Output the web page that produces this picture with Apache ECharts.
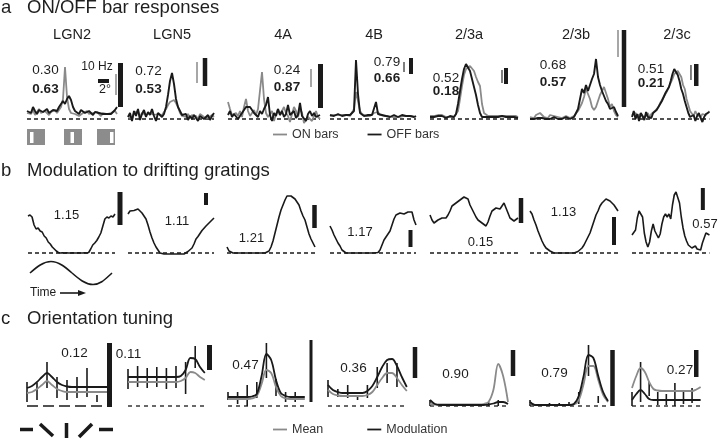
<!DOCTYPE html>
<html><head><meta charset="utf-8">
<script src="https://cdn.jsdelivr.net/npm/echarts@6/dist/echarts.min.js"></script>
<style>html,body{margin:0;padding:0;background:#fff}#c{width:720px;height:439px}</style>
</head><body><div id="c"></div>
<script>
// ================= DATA =================
// ---- a: ON/OFF bar responses (response above baseline) ----
const aColumns = ['LGN2','LGN5','4A','4B','2/3a','2/3b','2/3c'];
const aIndexTop = ['0.30','0.72','0.24','0.79','0.52','0.68','0.51'];
const aIndexBold = ['0.63','0.53','0.87','0.66','0.18','0.57','0.21'];
const on_LGN2 = [6,8,5,9,4,7,10,6,5,8,6,4,7,5,9,6,8,12,20,52,22,10,6,4,5,7,3,5,6,4,8,5,3,6,4,7,5,3,6,4,5,3,6,4,8,5];
const off_LGN2 = [8,10,6,12,8,5,9,11,7,9,10,6,8,9,7,8,12,14,18,15,20,23,19,12,8,6,5,9,7,6,5,8,6,4,7,5,6,4,5,7,5,3,5,7,9,12];
const on_LGN5 = [3,5,0,6,4,8,2,6,7,4,5,6,8,4,2,5,7,4,6,10,14,17,18,19,16,12,6,3,4,2,5,1,4,2,3,0,5,3,2,4,1,3,4,2];
const off_LGN5 = [2,6,-2,8,3,10,-1,5,9,2,7,4,10,3,-2,6,8,2,5,12,24,38,46,35,20,12,8,4,2,5,-1,3,0,4,1,-2,3,5,0,2,4,-1,3,6];
const on_4A = [17,10,4,2,6,3,8,2,12,20,8,3,5,9,4,10,8,47,20,6,2,4,8,-2,5,10,4,3,12,6,3,-3,5,12,8,2,10,6,-4,-6,2,4,-2,3,8,2,0];
const off_4A = [4,8,2,5,3,0,2,6,9,12,13,12,10,6,4,2,8,5,10,14,22,4,-2,6,3,10,4,8,2,5,14,4,2,8,1,4,16,3,2,-2,5,8,3,6,2,0,4];
const on_4B = [3,4,4,3,4,3,4,3,4,4,3,4,10,27,18,8,5,4,3,4,3,5,6,8,7,4,3,3,2,3,3,2,3,2,3,2,3,3,2,3,2,3,3,2];
const off_4B = [4,5,3,4,5,4,3,5,4,3,4,5,8,59,25,6,4,3,5,4,3,4,6,17,5,3,4,2,3,4,2,3,4,3,2,3,4,2,3,2,3,4,2,3];
const on_23a = [3,2,3,2,4,3,4,3,2,3,2,3,2,3,8,20,33,44,50,52,53,52,48,42,37,33,15,6,4,3,4,3,2,3,4,3,2,3,4,3,2,3,2,3,2];
const off_23a = [2,3,2,4,3,2,3,2,1,2,3,2,2,5,15,28,40,50,55,53,48,40,32,24,14,6,2,1,2,1,2,3,2,1,2,2,3,4,2,3,2,1,2,2,1];
const on_23b = [2,3,1,4,2,6,5,2,3,1,4,2,3,5,2,3,1,2,3,2,1,2,3,4,8,12,16,22,30,28,20,12,9,12,18,24,28,32,26,20,12,15,8,4,2];
const off_23b = [0,1,0,2,1,0,1,2,0,1,0,1,2,1,0,1,0,1,2,1,0,1,2,4,10,20,30,26,34,28,27,40,45,60,42,34,28,26,18,15,10,9,12,7,3];
const on_23c = [4,2,6,3,1,5,2,4,3,6,2,5,4,8,10,12,16,14,22,24,28,30,36,40,45,44,48,49,42,34,30,20,14,8,6,3,8,4,6,2,5,3,4,6,8];
const off_23c = [2,8,0,5,-2,6,3,-1,7,2,4,1,6,5,9,12,14,18,20,26,24,32,38,45,50,47,44,38,30,25,18,12,6,2,0,4,-2,3,6,1,-3,2,5,3,7];

// ---- b: modulation to drifting gratings ----
const bIndex = ['1.15','1.11','1.21','1.17','0.15','1.13','0.57'];
const grat_LGN2 = [37,38,36,28,24,25,22,21,17,15,11,9,6,4,2,0.5,0,0.3,0,0.2,0,0,0.3,0,0,0.2,0,0,0.3,0,0.5,4,8,10,12.5,16,20,27,34,36,35,37,36,39];
const grat_LGN5 = [39,42,43,42.5,44,44,42,40,38,34,28,21,15,10,6,3,0,-1,-1,-1,-1,-1,-1,-1,-1,-1,-1,-1,-1,-0.5,1.5,3,5,9,14,16.5,19.5,22.5,24.5,27,29,31,33,35];
const grat_4A = [6,2,0,0,0,0,0,0,0,0,0,0,0,0,0,0,0,0,0,0,0,2,6,12,20,28,36,43,48,53,57,59,57,56,54,52,48,42,37,33,26,19,14,10,6];
const grat_4B = [27,23,18,14,10,7,3,1,0,0,0,0,0,0,0,0,0,0,0,0,0,0,0,0,0.5,3,8,13,16,19,22,28,34,38,40,40,41,39,40,41,39,41,33,28];
const grat_23a = [38,33,30,31,33,34,35,33,35,38,42,47,49,50,52,53,55,56,58,54,48,44,40,36,33,32,30,28,27,31,37,42,44,45,43,44,46,50,52,40,35,33,32,33,35];
const grat_23b = [42,39,33,28,22,17,12,8,5,3,2,1,0,0,0,0,0,0,0,0,0,0,0,0,1.5,3,5,8,12,16,20,26,32,38,42,47,50,52,54,53,52,50,48,45,42];
const grat_23c = [18,16,23,35,42,44,36,20,11,6,11,22,29,22,22,15,19,29,36,39,36,39,34,48,58,61,61,50,36,25,17,12,8,6,5,6,7,4,2,3,10,15,20,19,18];

// ---- c: orientation tuning (fits at 0,0.5,...,8 orientation steps; error bars at 0..7) ----
const cIndex = ['0.12','0.11','0.47','0.36','0.90','0.79','0.27'];
const mean_LGN2 = [13,14,17,21,25,21,17,15,14,14,14,14,14,14,14,14,14];
const modt_LGN2 = [18,20,24,29,33,29,24,21,19.5,19,19,19,19,19,19,19,19];
const errLo_LGN2 = [4,6,18,8,6,8,9,4];
const errHi_LGN2 = [24,23,44,29,26,29,38,11];
const mean_LGN5 = [24,24,24,24,24,24,24,24,24,24,24,25,28,34,33,29,26];
const modt_LGN5 = [29,29,29,29,29,29,29,29,29,29,29,30,36,48,47,39,33];
const errLo_LGN5 = [17,19,18,19,17,18,12,38];
const errHi_LGN5 = [37,40,38,39,38,40,44,60];
const mean_4A = [7,7,7,7,7,7.5,10,22,36,33,19,10,7.5,7,7,7,7];
const modt_4A = [9,9,9,9,9,9.5,12,30,52,46,26,13,10,9,9,9,9];
const errLo_4A = [6,2,0,8,28,10,4,4];
const errHi_4A = [14,14,21,24,63,27,14,14];
const mean_4B = [16,12,10.5,10,10,10,10,10,11,14,21,28,33,33,28,21,15];
const modt_4B = [21,16,14,13,13,13,13,13,15,20,29,39,46,47,40,29,19];
const errLo_4B = [9,9,8,6,8,18,23,19];
const errHi_4B = [26,17,21,11,21,39,43,43];
const mean_23a = [2,1.5,1.5,1.5,1.5,1.5,1.5,1.5,1.5,1.5,1.5,2,4,16,42,30,4];
const modt_23a = [6,2,1,1,1,1,1,1,1,1,1,1,1.5,2.5,4,4,2];
const errLo_23a = [0,0,0,0,0,0,0,0];
const errHi_23a = [6,2,2,2,2,2,4,6];
const mean_23b = [3,1,1,1,1,1,1,1,1,1.5,6,22,40,40,26,11,4];
const modt_23b = [4,1,1,1,1,1,1,1,1,2,10,30,51,48,30,14,5];
const errLo_23b = [0,0,0,0,0,2,30,3];
const errHi_23b = [6,2,3,3,4,14,61,10];
const mean_23c = [18,30,38,34,24,17,15.5,15,15,15,15,15,15,15,15,16.5,19];
const modt_23c = [6,12,16,12,7,6,6,6,6,6,6,6,6,6,6,6,6];
const errLo_23c = [0,4,10,1,1,0,2,3];
const errHi_23c = [14,44,24,14,12,23,14,18];

// ================= LAYOUT / STYLE =================
const FONT = '"Liberation Sans", Arial, Helvetica, sans-serif';
const GRAY = '#8a8a8a', BLACK = '#1a1a1a', DARK = '#555';
const aOn = [on_LGN2,on_LGN5,on_4A,on_4B,on_23a,on_23b,on_23c];
const aOff = [off_LGN2,off_LGN5,off_4A,off_4B,off_23a,off_23b,off_23c];
const bTr = [grat_LGN2,grat_LGN5,grat_4A,grat_4B,grat_23a,grat_23b,grat_23c];
const cMean = [mean_LGN2,mean_LGN5,mean_4A,mean_4B,mean_23a,mean_23b,mean_23c];
const cMod = [modt_LGN2,modt_LGN5,modt_4A,modt_4B,modt_23a,modt_23b,modt_23c];
const cLo = [errLo_LGN2,errLo_LGN5,errLo_4A,errLo_4B,errLo_23a,errLo_23b,errLo_23c];
const cHi = [errHi_LGN2,errHi_LGN5,errHi_4A,errHi_4B,errHi_23a,errHi_23b,errHi_23c];

const aTitleX = [72,172,283,374,469,576,677];
const aLayout = [
 {left:27, span:90, tx:45.5, ty1:70, ty2:89, bars:[[89,24,45,1.5,GRAY],[93.5,12,56,5,BLACK]]},
 {left:128, span:86, tx:148.5, ty1:71.5, ty2:89, bars:[[69,36,57,1.5,GRAY],[77,33,61,4.5,BLACK]]},
 {left:228, span:92, tx:287, ty1:70, ty2:87.5, bars:[[83,32,50,1.5,GRAY],[92.5,11,55,5,BLACK]]},
 {left:330, span:86, tx:387, ty1:62, ty2:78.5, bars:[[74,47,57,1.5,DARK],[81,45,61,4,BLACK]]},
 {left:430, span:88, tx:446, ty1:78, ty2:91, bars:[[72,36,49,1.5,DARK],[76,35,51,4,BLACK]]},
 {left:530, span:88, tx:553, ty1:65, ty2:82, bars:[[88,62,89,1.5,GRAY],[94,12,89,4.5,BLACK]]},
 {left:632, span:88, tx:651, ty1:69, ty2:83, bars:[[67,39,54,1.5,DARK],[73,33,55,4.5,BLACK]]}
];
const bLayout = [
 {left:28, span:87, tx:66.5, ty:215, bar:[92,28,61,5]},
 {left:128, span:86, tx:177, ty:221, bar:[78,48,60,4]},
 {left:227, span:88, tx:251.5, ty:238, bar:[87.5,25,48,4.5]},
 {left:330, span:86, tx:360, ty:232, bar:[80.5,6,23,4]},
 {left:430, span:88, tx:480.5, ty:242, bar:[91,30,55,4.5]},
 {left:530, span:88, tx:563.5, ty:212, bar:[84,8,36,4]},
 {left:632, span:88, tx:705, ty:224, bar:[80.5,43,65,4]}
];
const cLayout = [
 {left:27, step:10, tx:74.5, ty:353, bar:[82.5,-1,63,5], dash:[11,5], base:80},
 {left:128, step:9.6, tx:128.5, ty:354, bar:[81.5,36,61,5], base:77},
 {left:228, step:9.6, tx:245.5, ty:365, bar:[83,4,66,3], base:77},
 {left:328, step:9.85, tx:353.5, ty:368, bar:[87,28,59,4.5], base:79},
 {left:430, step:9.75, tx:455.5, ty:374, bar:[83,30,56,4.5], base:78},
 {left:530, step:9.75, tx:554.5, ty:373, bar:[82.5,0,56,4.5], base:78},
 {left:632, step:9.75, tx:680, ty:370, bar:[73,29,56,4.5], base:78}
];
const rowBaseline = [119, 253, 406];

// ================= BUILD =================
const grids=[], xAxes=[], yAxes=[], series=[], gfx=[];
function addGrid(left, baseline){
  const gi = grids.length;
  grids.push({left:left, top:baseline-100, width:100, height:120});
  xAxes.push({type:'value', gridIndex:gi, min:0, max:100, show:false});
  yAxes.push({type:'value', gridIndex:gi, min:-20, max:100, show:false});
  return gi;
}
function spread(vals, span){ const n=vals.length; return vals.map((v,i)=>[i*span/(n-1), v]); }
function line(gi, data, color, width, name, extra){
  series.push(Object.assign({type:'line', xAxisIndex:gi, yAxisIndex:gi, data:data, name:name,
    symbol:'none', showSymbol:false, clip:false, animation:false, silent:true,
    lineStyle:{color:color, width:width}, itemStyle:{color:color}}, extra||{}));
}
function dashed(gi, span, dash){
  series.push({type:'line', xAxisIndex:gi, yAxisIndex:gi, data:[[0,0],[span,0]], symbol:'none',
    clip:false, animation:false, silent:true, lineStyle:{color:BLACK, width:1.3, type:dash||[4,3]}});
}
function scaleBars(gi, list){
  series.push({type:'custom', xAxisIndex:gi, yAxisIndex:gi, silent:true, animation:false,
    data:list.map(b=>[b[0],b[1],b[2]]),
    renderItem:function(p, api){
      const b=list[p.dataIndex];
      const lo=api.coord([api.value(0),api.value(1)]), hi=api.coord([api.value(0),api.value(2)]);
      return {type:'rect', shape:{x:lo[0]-b[3]/2, y:hi[1], width:b[3], height:lo[1]-hi[1]}, style:{fill:b[4]||BLACK}};
    }});
}
function errBars(gi, xs, lo, hi){
  series.push({type:'custom', xAxisIndex:gi, yAxisIndex:gi, silent:true, animation:false,
    data:xs.map((x,i)=>[x, lo[i], hi[i]]),
    renderItem:function(p, api){
      const a=api.coord([api.value(0),api.value(1)]), b=api.coord([api.value(0),api.value(2)]);
      return {type:'line', shape:{x1:a[0],y1:a[1],x2:b[0],y2:b[1]}, style:{stroke:BLACK, lineWidth:1.6}};
    }});
}
function txt(x, y, s, o){
  o=o||{};
  gfx.push({type:'text', x:x, y:y, silent:true, style:{text:s, fontSize:o.size||13.5, fontWeight:o.bold?'bold':'normal',
    fontFamily:FONT, fill:o.color||'#1e1e1e', align:o.align||'center', verticalAlign:'middle'}});
}

// Row a
for (let k=0;k<7;k++){
  const L=aLayout[k]; const gi=addGrid(L.left, rowBaseline[0]);
  dashed(gi, L.span);
  line(gi, spread(aOn[k], L.span), GRAY, 1.8, 'ON bars');
  line(gi, spread(aOff[k], L.span), BLACK, 1.9, 'OFF bars');
  scaleBars(gi, L.bars);
  txt(aTitleX[k], 35, aColumns[k], {size:14.5});
  txt(L.tx, L.ty1, aIndexTop[k]);
  txt(L.tx, L.ty2, aIndexBold[k], {bold:true});
}
// Row b
for (let k=0;k<7;k++){
  const L=bLayout[k]; const gi=addGrid(L.left, rowBaseline[1]);
  dashed(gi, L.span);
  line(gi, spread(bTr[k], L.span), BLACK, 1.6);
  scaleBars(gi, [[L.bar[0],L.bar[1],L.bar[2],L.bar[3],BLACK]]);
  txt(L.tx, L.ty, bIndex[k], {size:13});
}
// Row c
for (let k=0;k<7;k++){
  const L=cLayout[k]; const gi=addGrid(L.left, rowBaseline[2]);
  dashed(gi, L.base, L.dash||[4,4]);
  errBars(gi, [0,1,2,3,4,5,6,7].map(i=>i*L.step), cLo[k], cHi[k]);
  line(gi, cMean[k].map((v,i)=>[i*0.5*L.step, v]), GRAY, 1.8, 'Mean', {smooth:0.35});
  line(gi, cMod[k].map((v,i)=>[i*0.5*L.step, v]), BLACK, 1.8, 'Modulation', {smooth:0.35});
  scaleBars(gi, [[L.bar[0],L.bar[1],L.bar[2],L.bar[3],BLACK]]);
  txt(L.tx, L.ty, cIndex[k]);
}

// Section titles
txt(1, 8, 'a', {size:18.5, align:'left'});
txt(27, 8, 'ON/OFF bar responses', {size:18.5, align:'left'});
txt(1, 171, 'b', {size:18.5, align:'left'});
txt(27, 171, 'Modulation to drifting gratings', {size:18.5, align:'left'});
txt(1, 319, 'c', {size:18.5, align:'left'});
txt(27, 319, 'Orientation tuning', {size:18.5, align:'left'});
// a: scale annotations and stimulus icons
txt(97, 67, '10 Hz', {size:12});
txt(105, 90, '2°', {size:12.5});
gfx.push({type:'rect', silent:true, shape:{x:98, y:79, width:11, height:4}, style:{fill:BLACK}});
[[27,30],[64,70.5],[97,110]].forEach(r=>{
  gfx.push({type:'rect', silent:true, shape:{x:r[0], y:129, width:18, height:16}, style:{fill:'#8c8c8c'}});
  gfx.push({type:'rect', silent:true, shape:{x:r[1], y:132, width:3.5, height:11}, style:{fill:'#fff'}});
});
// b: sinusoid schematic + time arrow
const sine = [[30,273,36.85,267.1,43.4,261.5,51,261.5],[51,261.5,58.6,261.5,65.15,267.1,72,273],[72,273,78.85,278.9,85.4,284.5,93,284.5],[93,284.5,100.6,284.5,105.5,278.9,112,273]];
sine.forEach(s=>gfx.push({type:'bezierCurve', silent:true, shape:{x1:s[0],y1:s[1],cpx1:s[2],cpy1:s[3],cpx2:s[4],cpy2:s[5],x2:s[6],y2:s[7]}, style:{stroke:BLACK, lineWidth:1.6, fill:null}}));
txt(30, 293, 'Time', {size:12, align:'left'});
gfx.push({type:'line', silent:true, shape:{x1:60,y1:293,x2:80,y2:293}, style:{stroke:BLACK, lineWidth:1.6}});
gfx.push({type:'polygon', silent:true, shape:{points:[[78,290],[86,293],[78,296]]}, style:{fill:BLACK}});
// c: orientation symbols
[[20,429.5,33,429.5],[40,424,53,436],[66.5,423,66.5,438],[79,437,92,424],[99,429.5,113,429.5]].forEach(s=>
  gfx.push({type:'line', silent:true, shape:{x1:s[0],y1:s[1],x2:s[2],y2:s[3]}, style:{stroke:BLACK, lineWidth:3.5}}));

const chart = echarts.init(document.getElementById('c'), null, {renderer:'canvas'});
chart.setOption({
  animation:false,
  backgroundColor:'#fff',
  textStyle:{fontFamily:FONT},
  grid:grids, xAxis:xAxes, yAxis:yAxes, series:series, graphic:gfx,
  legend:[
    {data:['ON bars','OFF bars'], left:273, top:128, padding:0, icon:'rect', itemWidth:14, itemHeight:1.8, itemGap:29, selectedMode:false,
     textStyle:{fontSize:12.5, color:'#333', fontFamily:FONT}},
    {data:['Mean','Modulation'], left:273, top:423, padding:0, icon:'rect', itemWidth:14, itemHeight:1.8, itemGap:44, selectedMode:false,
     textStyle:{fontSize:12.5, color:'#333', fontFamily:FONT}}
  ]
});
</script></body></html>
